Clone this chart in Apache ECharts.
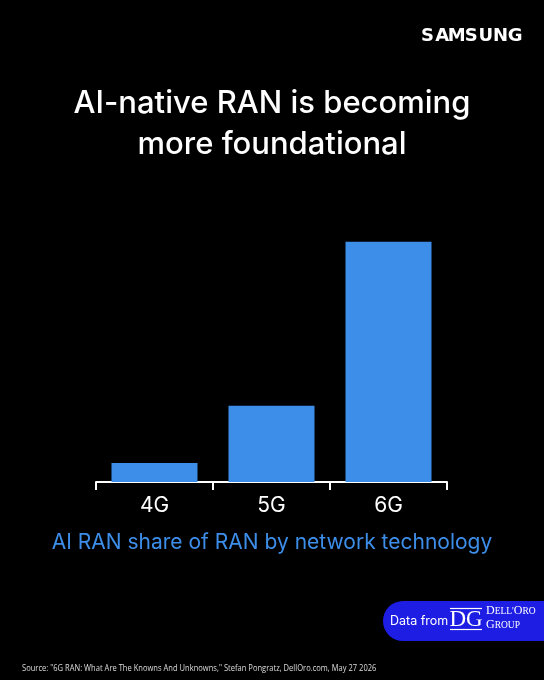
<!DOCTYPE html>
<html>
<head>
<meta charset="utf-8">
<script src="https://cdn.jsdelivr.net/npm/echarts@6/dist/echarts.min.js"></script>
<style>
html,body{margin:0;padding:0;background:#000;}
#c{width:544px;height:680px;}
</style>
</head>
<body>
<div id="c"></div>
<script>
const categories = ['4G', '5G', '6G'];
const shareValues = [5, 20, 63];
const titleLines = ['AI-native RAN is becoming', 'more foundational'];
const subtitle = 'AI RAN share of RAN by network technology';
const sourceText = 'Source: "6G RAN: What Are The Knowns And Unknowns," Stefan Pongratz, DellOro.com, May 27 2026';
const brand = 'SAMSUNG';

const chart = echarts.init(document.getElementById('c'), null, {renderer: 'canvas'});

const brandLetters = brand.split('').map((ch, i) => ({
  type: 'text',
  x: 427.5 + i * 14.6,
  y: 36,
  style: {text: ch, fill: '#fff', font: 'bold 18px "DejaVu Sans"', align: 'center', verticalAlign: 'middle'}
}));

chart.setOption({
  backgroundColor: '#000',
  animation: false,
  grid: {left: 96, right: 97, top: 215, bottom: 198},
  xAxis: {
    type: 'category',
    data: categories,
    boundaryGap: true,
    axisLine: {lineStyle: {color: '#fff', width: 2}},
    axisTick: {show: true, length: 8, lineStyle: {color: '#fff', width: 2}},
    axisLabel: {color: '#fff', fontSize: 21, fontFamily: 'Inter', margin: 13}
  },
  yAxis: {type: 'value', min: 0, max: 70, show: false, splitLine: {show: false}},
  series: [{
    type: 'bar',
    data: shareValues,
    barWidth: 86,
    itemStyle: {color: '#3d8ee9'}
  }],
  graphic: [
    ...brandLetters,
    {
      type: 'text', x: 272, y: 83,
      style: {text: titleLines.join('\n'), fill: '#fff', font: '500 31px Inter', align: 'center', lineHeight: 41}
    },
    {
      type: 'text', x: 272, y: 543,
      style: {text: subtitle, fill: '#3d8ee9', font: '21px Inter', align: 'center', verticalAlign: 'middle'}
    },
    {
      type: 'rect', shape: {x: 383, y: 601, width: 180, height: 40, r: [20, 0, 0, 20]},
      style: {fill: '#1d1de3'}
    },
    {
      type: 'text', x: 390, y: 621,
      style: {text: 'Data from', fill: '#fff', font: '12.5px Inter', verticalAlign: 'middle'}
    },
    {
      type: 'line', shape: {x1: 450, y1: 608.5, x2: 482, y2: 608.5},
      style: {stroke: '#fff', lineWidth: 1.2}
    },
    {
      type: 'line', shape: {x1: 450, y1: 629.5, x2: 482, y2: 629.5},
      style: {stroke: '#fff', lineWidth: 1.2}
    },
    {
      type: 'text', x: 466, y: 620,
      style: {text: 'DG', fill: '#fff', font: '23px "Liberation Serif"', align: 'center', verticalAlign: 'middle'}
    },
    {
      type: 'text', x: 486, y: 604,
      style: {
        text: "{b|D}{s|ELL'}{b|O}{s|RO}\n{b|G}{s|ROUP}",
        rich: {
          b: {fill: '#fff', font: '12px "Liberation Serif"', lineHeight: 14},
          s: {fill: '#fff', font: '9.5px "Liberation Serif"', lineHeight: 14}
        }
      }
    },
    {
      type: 'text', x: 22, y: 668, scaleX: 0.84,
      style: {text: sourceText, fill: '#ddd', font: '9px "Open Sans"', verticalAlign: 'middle'}
    }
  ]
});
</script>
</body>
</html>
